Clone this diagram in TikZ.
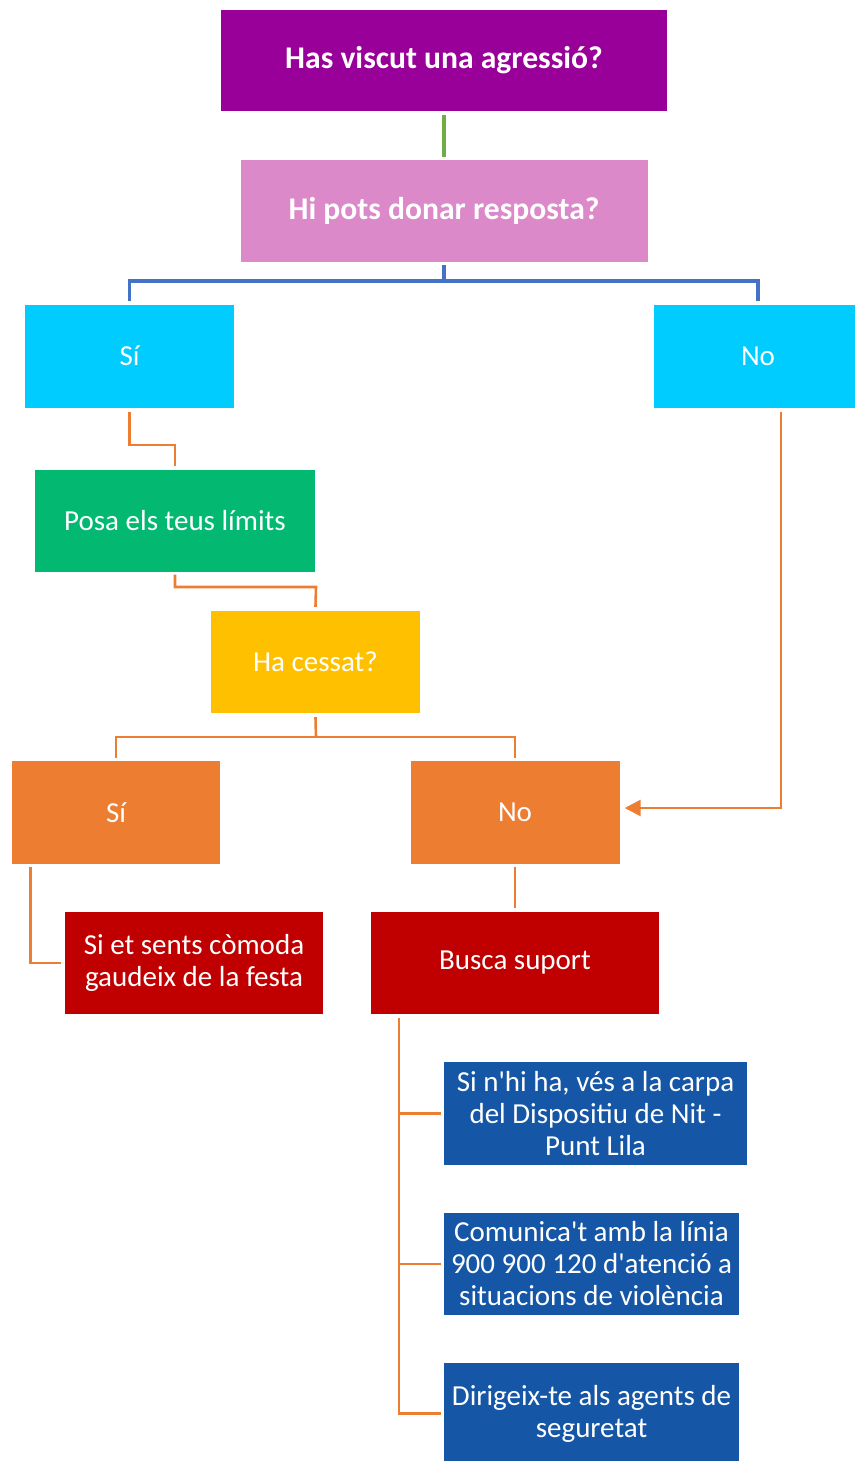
\documentclass[tikz,border=0pt]{standalone}
\usepackage{fontspec}
\setmainfont{Carlito}
\usetikzlibrary{arrows.meta}
\definecolor{cpurple}{HTML}{990099}
\definecolor{cpink}{HTML}{DB89C9}
\definecolor{ccyan}{HTML}{00CCFF}
\definecolor{cgreen}{HTML}{03B972}
\definecolor{cyellow}{HTML}{FFC000}
\definecolor{corange}{HTML}{ED7D31}
\definecolor{cred}{HTML}{C00000}
\definecolor{cblue}{HTML}{1556A6}
\definecolor{lgreen}{HTML}{70AD47}
\definecolor{lblue}{HTML}{4472C4}
\newcommand{\ap}{\textquotesingle}
\tikzset{
  box/.style={rectangle, inner sep=0pt, text=white, align=center,
    font=\fontsize{29}{32}\selectfont},
  bbox/.style={box, font=\fontsize{31.6}{34}\selectfont\bfseries},
  gline/.style={draw=lgreen, line width=3.2pt},
  bline/.style={draw=lblue, line width=3.2pt},
  oline/.style={draw=corange, line width=2.6pt},
}
\begin{document}
\begin{tikzpicture}[x=1pt,y=-1pt]
\useasboundingbox (0,0) rectangle (854,1461);
\node[bbox, fill=cpurple, minimum width=446pt, minimum height=101pt] (a) at (444,60.5) {Has viscut una agressió?};
\node[bbox, fill=cpink, minimum width=407pt, minimum height=102pt] (b) at (444,211) {Hi pots donar resposta?};
\node[box, fill=ccyan, minimum width=209pt, minimum height=103pt] (si1) at (129.5,356) {Sí};
\node[box, fill=ccyan, minimum width=208pt, minimum height=103pt] (no1) at (758,356) {No};
\node[box, fill=cgreen, minimum width=280pt, minimum height=102pt] (posa) at (175,520.5) {Posa els teus límits};
\node[box, fill=cyellow, minimum width=209pt, minimum height=102pt] (ha) at (315.5,662) {Ha cessat?};
\node[box, fill=corange, minimum width=208.5pt, minimum height=103pt] (si2) at (116,812.5) {Sí};
\node[box, fill=corange, minimum width=209pt, minimum height=103pt] (no2) at (515,812.5) {No};
\node[box, fill=cred, minimum width=258pt, minimum height=102pt] (r1) at (194,963) {Si et sents còmoda\\gaudeix de la festa};
\node[box, fill=cred, minimum width=288pt, minimum height=102pt] (r2) at (515,963) {Busca suport};
\node[box, fill=cblue, minimum width=303pt, minimum height=103pt] (u1) at (595.5,1113.5) {Si n\ap hi ha, vés a la carpa\\del Dispositiu de Nit -\\Punt Lila};
\node[box, fill=cblue, minimum width=295pt, minimum height=102pt] (u2) at (591.5,1264) {Comunica\ap t amb la línia\\900 900 120 d\ap atenció a\\situacions de violència};
\node[box, fill=cblue, minimum width=295pt, minimum height=101pt] (u3) at (591.5,1413.5) {Dirigeix-te als agents de\\seguretat};
% connectors
\coordinate (hb) at (444,281);
\coordinate (c1) at (175,445);
\coordinate (c2) at (316,587);
\coordinate (c3) at (316,737);
\draw[gline] ([yshift=-4pt]a.south) -- ([yshift=3pt]b.north);
\draw[bline] ([yshift=-3pt]b.south) -- (hb);
\draw[bline] ([yshift=3pt]si1.north) |- (hb) -| ([yshift=3pt]no1.north);
\draw[oline] ([yshift=-4pt]si1.south) |- (c1) -- ([yshift=3pt]posa.north);
\draw[oline] ([yshift=-3pt]posa.south) |- (c2) -- ([yshift=4pt]ha.north);
\draw[oline] ([yshift=-4pt]ha.south) -- (c3);
\draw[oline] ([yshift=3pt]si2.north) |- (c3) -| ([yshift=3pt]no2.north);
\draw[oline, -{Triangle[length=16pt,width=16pt]}] ([xshift=23pt,yshift=-4pt]no1.south) |- ([xshift=5pt,yshift=4.5pt]no2.east);
\draw[oline] ([xshift=19pt,yshift=-3pt]si2.south west) |- ([xshift=-4pt]r1.west);
\draw[oline] ([yshift=-3pt]no2.south) -- ([yshift=4pt]r2.north);
\draw[oline] ([xshift=28pt,yshift=-4pt]r2.south west) |- ([xshift=-3pt]u3.west);
\draw[oline] ([xshift=28pt,yshift=-4pt]r2.south west) |- ([xshift=-3pt]u1.west);
\draw[oline] ([xshift=28pt,yshift=-4pt]r2.south west) |- ([xshift=-3pt]u2.west);
\end{tikzpicture}
\end{document}
